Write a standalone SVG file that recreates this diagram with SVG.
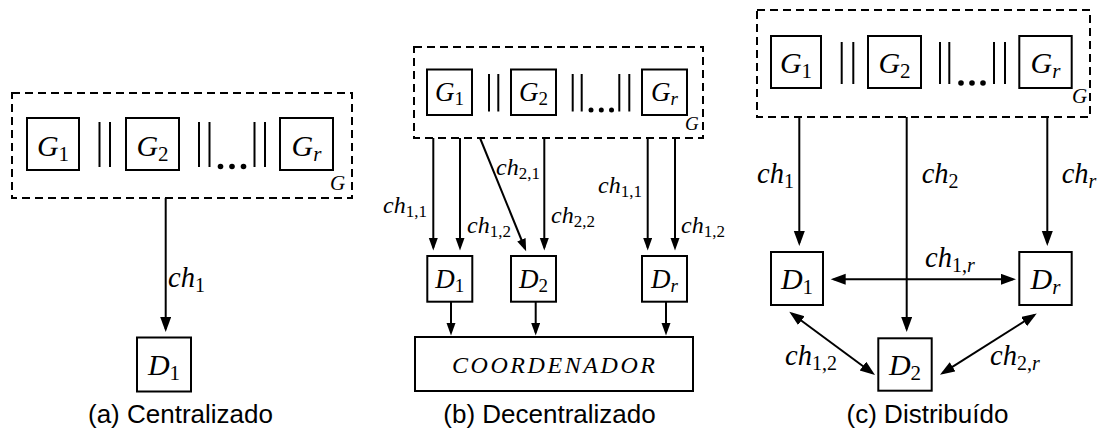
<svg xmlns="http://www.w3.org/2000/svg" width="1100" height="432" viewBox="0 0 1100 432">
<style>
.bg{fill:#fff}
.box{fill:#fff;stroke:#000;stroke-width:2}
.dash{fill:none;stroke:#000;stroke-width:2;stroke-dasharray:8 5}
.ln{stroke:#000;stroke-width:2;fill:none}
.par{stroke:#000;stroke-width:2}
.dot{fill:#000}
.m{font-family:"Liberation Serif",serif;font-style:italic;fill:#000}
.sub{font-style:normal}
.subi{font-style:italic}
.cap{font-family:"Liberation Sans",Arial,sans-serif;font-size:26px;fill:#000;text-anchor:middle}
.a{marker-end:url(#ah)}
.as{marker-end:url(#ahs)}
.ab{marker-end:url(#ah);marker-start:url(#ah)}
</style>
<defs>
<marker id="ah" markerUnits="userSpaceOnUse" markerWidth="16" markerHeight="12" refX="12" refY="5.5" orient="auto-start-reverse">
<path d="M0,0 L15,5.5 L0,11 z" fill="#000"/>
</marker>
<marker id="ahs" markerUnits="userSpaceOnUse" markerWidth="13" markerHeight="10" refX="9.5" refY="4.5" orient="auto">
<path d="M0,0 L12.5,4.5 L0,9 z" fill="#000"/>
</marker>
</defs>
<rect class="bg" x="0" y="0" width="1100" height="432"/>

<!-- Panel (a) -->
<g id="a-G">
<rect class="dash" x="12" y="93" width="340" height="105"/>
<text class="m" x="330" y="190" font-size="21">G</text>
</g>
<g id="a-G1"><rect class="box" x="27" y="118" width="52" height="52"/><text class="m" x="53" y="156" font-size="30" text-anchor="middle">G<tspan class="sub" font-size="21" dy="5">1</tspan></text></g>
<g id="a-G2"><rect class="box" x="126" y="118" width="53" height="52"/><text class="m" x="152.5" y="156" font-size="30" text-anchor="middle">G<tspan class="sub" font-size="21" dy="5">2</tspan></text></g>
<g id="a-Gr"><rect class="box" x="280" y="118" width="53" height="52"/><text class="m" x="306.5" y="156" font-size="30" text-anchor="middle">G<tspan class="subi" font-size="21" dy="5">r</tspan></text></g>
<g id="a-par">
<line class="par" x1="99.5" y1="122" x2="99.5" y2="167"/><line class="par" x1="110" y1="122" x2="110" y2="167"/>
<line class="par" x1="199" y1="122" x2="199" y2="167"/><line class="par" x1="209.5" y1="122" x2="209.5" y2="167"/>
<circle class="dot" cx="220.5" cy="166.5" r="2.8"/><circle class="dot" cx="232" cy="166.5" r="2.8"/><circle class="dot" cx="243.5" cy="166.5" r="2.8"/>
<line class="par" x1="254.5" y1="122" x2="254.5" y2="167"/><line class="par" x1="265" y1="122" x2="265" y2="167"/>
</g>
<g id="a-D1"><rect class="box" x="137" y="337.5" width="54" height="54"/><text class="m" x="164" y="375" font-size="30" text-anchor="middle">D<tspan class="sub" font-size="21" dy="5">1</tspan></text></g>
<g id="a-conn">
<line class="ln a" x1="165.7" y1="198" x2="165.7" y2="329"/>
<text class="m" x="168" y="287" font-size="28.5">ch<tspan class="sub" font-size="20" dy="5">1</tspan></text>
</g>
<text class="cap" x="180.5" y="423">(a) Centralizado</text>

<!-- Panel (b) -->
<g id="b-G">
<rect class="dash" x="414" y="47" width="289" height="91"/>
<text class="m" x="685" y="130" font-size="19">G</text>
</g>
<g id="b-G1"><rect class="box" x="427" y="69.5" width="45" height="45.5"/><text class="m" x="449.5" y="101" font-size="27" text-anchor="middle">G<tspan class="sub" font-size="19" dy="4">1</tspan></text></g>
<g id="b-G2"><rect class="box" x="511" y="69.5" width="45" height="45.5"/><text class="m" x="533.5" y="101" font-size="27" text-anchor="middle">G<tspan class="sub" font-size="19" dy="4">2</tspan></text></g>
<g id="b-Gr"><rect class="box" x="642" y="69.5" width="45" height="45.5"/><text class="m" x="664.5" y="101" font-size="27" text-anchor="middle">G<tspan class="subi" font-size="19" dy="4">r</tspan></text></g>
<g id="b-par">
<line class="par" x1="489" y1="74" x2="489" y2="111.5"/><line class="par" x1="498.3" y1="74" x2="498.3" y2="111.5"/>
<line class="par" x1="572.7" y1="74" x2="572.7" y2="111.5"/><line class="par" x1="581.7" y1="74" x2="581.7" y2="111.5"/>
<circle class="dot" cx="591" cy="110" r="2.5"/><circle class="dot" cx="601.3" cy="110" r="2.5"/><circle class="dot" cx="611.5" cy="110" r="2.5"/>
<line class="par" x1="619.3" y1="74" x2="619.3" y2="111.5"/><line class="par" x1="629.3" y1="74" x2="629.3" y2="111.5"/>
</g>
<g id="b-D1"><rect class="box" x="427.3" y="256" width="45" height="45.7"/><text class="m" x="449.8" y="288" font-size="27" text-anchor="middle">D<tspan class="sub" font-size="19" dy="4">1</tspan></text></g>
<g id="b-D2"><rect class="box" x="511" y="256" width="45" height="45.7"/><text class="m" x="533.5" y="288" font-size="27" text-anchor="middle">D<tspan class="sub" font-size="19" dy="4">2</tspan></text></g>
<g id="b-Dr"><rect class="box" x="642" y="256" width="45" height="45.7"/><text class="m" x="664.5" y="288" font-size="27" text-anchor="middle">D<tspan class="subi" font-size="19" dy="4">r</tspan></text></g>
<g id="b-coord"><rect class="box" x="415" y="337" width="278" height="54"/><text class="m" x="452" y="373" font-size="24" textLength="203" lengthAdjust="spacing">COORDENADOR</text></g>
<g id="b-conn">
<line class="ln as" x1="433.3" y1="138" x2="433.3" y2="247.5"/>
<line class="ln as" x1="460" y1="138" x2="460" y2="247.5"/>
<line class="ln as" x1="480" y1="138" x2="525" y2="248.5"/>
<line class="ln as" x1="544.3" y1="138" x2="544.3" y2="247.5"/>
<line class="ln as" x1="647.7" y1="138" x2="647.7" y2="247.5"/>
<line class="ln as" x1="675" y1="138" x2="675" y2="247.5"/>
<line class="ln as" x1="451" y1="302" x2="451" y2="332.5"/>
<line class="ln as" x1="535.7" y1="302" x2="535.7" y2="332.5"/>
<line class="ln as" x1="666" y1="302" x2="666" y2="332.5"/>
<text class="m" x="383" y="213" font-size="24">ch<tspan class="sub" font-size="17" dy="4">1,1</tspan></text>
<text class="m" x="467" y="233" font-size="24">ch<tspan class="sub" font-size="17" dy="4">1,2</tspan></text>
<text class="m" x="496" y="175" font-size="24">ch<tspan class="sub" font-size="17" dy="4">2,1</tspan></text>
<text class="m" x="551" y="222.5" font-size="24">ch<tspan class="sub" font-size="17" dy="4">2,2</tspan></text>
<text class="m" x="598" y="193" font-size="24">ch<tspan class="sub" font-size="17" dy="4">1,1</tspan></text>
<text class="m" x="681" y="233" font-size="24">ch<tspan class="sub" font-size="17" dy="4">1,2</tspan></text>
</g>
<text class="cap" x="549.5" y="423">(b) Decentralizado</text>

<!-- Panel (c) -->
<g id="c-G">
<rect class="dash" x="757" y="10" width="333" height="107"/>
<text class="m" x="1072" y="103" font-size="21">G</text>
</g>
<g id="c-G1"><rect class="box" x="771" y="36" width="50" height="52"/><text class="m" x="796" y="73" font-size="30" text-anchor="middle">G<tspan class="sub" font-size="21" dy="5">1</tspan></text></g>
<g id="c-G2"><rect class="box" x="868" y="36" width="53" height="52"/><text class="m" x="894.5" y="73" font-size="30" text-anchor="middle">G<tspan class="sub" font-size="21" dy="5">2</tspan></text></g>
<g id="c-Gr"><rect class="box" x="1019.3" y="36" width="52.4" height="52"/><text class="m" x="1045.5" y="73" font-size="30" text-anchor="middle">G<tspan class="subi" font-size="21" dy="5">r</tspan></text></g>
<g id="c-par">
<line class="par" x1="841.7" y1="42" x2="841.7" y2="84"/><line class="par" x1="853.3" y1="42" x2="853.3" y2="84"/>
<line class="par" x1="940" y1="42" x2="940" y2="84"/><line class="par" x1="949.3" y1="42" x2="949.3" y2="84"/>
<circle class="dot" cx="961" cy="83" r="2.8"/><circle class="dot" cx="972" cy="83" r="2.8"/><circle class="dot" cx="983" cy="83" r="2.8"/>
<line class="par" x1="994" y1="42" x2="994" y2="84"/><line class="par" x1="1005" y1="42" x2="1005" y2="84"/>
</g>
<g id="c-D1"><rect class="box" x="771" y="252" width="52" height="53"/><text class="m" x="797" y="289" font-size="30" text-anchor="middle">D<tspan class="sub" font-size="21" dy="5">1</tspan></text></g>
<g id="c-Dr"><rect class="box" x="1019.3" y="252" width="52.4" height="53"/><text class="m" x="1045.5" y="289" font-size="30" text-anchor="middle">D<tspan class="subi" font-size="21" dy="5">r</tspan></text></g>
<g id="c-D2"><rect class="box" x="878.3" y="338.3" width="53.4" height="52.4"/><text class="m" x="905" y="375" font-size="30" text-anchor="middle">D<tspan class="sub" font-size="21" dy="5">2</tspan></text></g>
<g id="c-conn">
<line class="ln a" x1="799.3" y1="117" x2="799.3" y2="243"/>
<line class="ln a" x1="906.7" y1="117" x2="906.7" y2="329"/>
<line class="ln a" x1="1047.3" y1="117" x2="1047.3" y2="243"/>
<line class="ln ab" x1="833.7" y1="279.3" x2="1013" y2="279.3"/>
<line class="ln ab" x1="791.7" y1="313.5" x2="872.6" y2="373.2"/>
<line class="ln ab" x1="1034.2" y1="315.1" x2="942.5" y2="373.2"/>
<text class="m" x="757" y="183" font-size="28.5">ch<tspan class="sub" font-size="20" dy="5">1</tspan></text>
<text class="m" x="921.7" y="183" font-size="28.5">ch<tspan class="sub" font-size="20" dy="5">2</tspan></text>
<text class="m" x="1061.7" y="183" font-size="28.5">ch<tspan class="subi" font-size="20" dy="5">r</tspan></text>
<text class="m" x="925" y="267" font-size="28.5">ch<tspan class="sub" font-size="20" dy="5">1,</tspan><tspan class="subi" font-size="20">r</tspan></text>
<text class="m" x="785" y="365" font-size="28.5">ch<tspan class="sub" font-size="20" dy="5">1,2</tspan></text>
<text class="m" x="990" y="365" font-size="28.5">ch<tspan class="sub" font-size="20" dy="5">2,</tspan><tspan class="subi" font-size="20">r</tspan></text>
</g>
<text class="cap" x="927.5" y="423">(c) Distribuído</text>
</svg>
